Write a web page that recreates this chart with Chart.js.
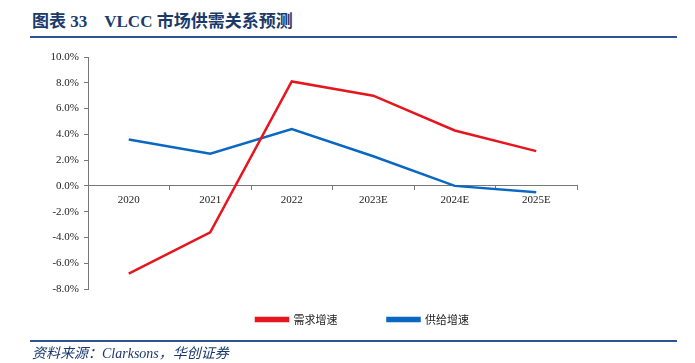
<!DOCTYPE html>
<html>
<head>
<meta charset="utf-8">
<script src="https://cdn.jsdelivr.net/npm/chart.js@4"></script>
<style>
  html, body { margin: 0; padding: 0; background: #fff; }
  #wrap { position: relative; width: 695px; height: 363px; overflow: hidden; }
  #chart { position: absolute; left: 0; top: 0; }
  .title {
    position: absolute; left: 32px; top: 7px;
    font: bold 17px "Liberation Serif", "Noto Sans CJK SC", serif;
    color: #1b3a6b; white-space: pre;
  }
  .rule { position: absolute; left: 30px; width: 647px; height: 2px; background: #2d5592; }
  .source {
    position: absolute; left: 32px; top: 342px;
    font: italic 14px "Liberation Serif", "Noto Sans CJK SC", serif;
    color: #1b3a6b;
  }
</style>
</head>
<body>
<div id="wrap">
  <div class="title">图表 33    VLCC 市场供需关系预测</div>
  <div class="rule" style="top:36px"></div>
  <canvas id="chart" width="695" height="363"></canvas>
  <div class="rule" style="top:340px"></div>
  <div class="source">资料来源：Clarksons，华创证券</div>
</div>
<script>
// 年份
const years = ["2020", "2021", "2022", "2023E", "2024E", "2025E"];
// 需求增速 (%)
const demand = [-6.8, -3.6, 8.1, 7.0, 4.3, 2.7];
// 供给增速 (%)
const supply = [3.6, 2.5, 4.4, 2.3, 0.0, -0.5];

const yMin = -8;
const yMax = 10;
const yStep = 2;

const axisFont = { family: "'Liberation Serif', 'Noto Sans CJK SC', serif", size: 11 };

// move the legend under the plot, like the original
const legendShift = {
  id: "legendShift",
  afterLayout(chart) {
    const lg = chart.legend;
    if (!lg) return;
    lg.left += 74;
    lg.right += 74;
    lg.top -= 25;
    lg.bottom -= 25;
  },
};

new Chart(document.getElementById("chart"), {
  type: "line",
  data: {
    labels: years,
    datasets: [
      {
        label: "需求增速",
        data: demand,
        borderColor: "#e6161e",
        backgroundColor: "#e6161e",
        borderWidth: 2.5,
        pointRadius: 0,
        tension: 0,
      },
      {
        label: "供给增速",
        data: supply,
        borderColor: "#0a67c2",
        backgroundColor: "#0a67c2",
        borderWidth: 2.5,
        pointRadius: 0,
        tension: 0,
      },
    ],
  },
  plugins: [legendShift],
  options: {
    responsive: false,
    animation: false,
    layout: { padding: { top: 57, left: 0, right: 118, bottom: 3 } },
    plugins: {
      tooltip: { enabled: false },
      legend: {
        position: "bottom",
        labels: {
          boxWidth: 32,
          boxHeight: 3,
          padding: 50,
          color: "#222",
          font: { family: "'Noto Sans CJK SC', serif", size: 11 },
        },
      },
    },
    scales: {
      x: {
        position: { y: 0 },
        offset: true,
        grid: {
          offset: true,
          drawOnChartArea: false,
          drawTicks: true,
          tickLength: 4,
          color: "#777",
        },
        border: { display: true, color: "#777", width: 1 },
        ticks: { color: "#222", font: axisFont, padding: 4, maxRotation: 0 },
      },
      y: {
        min: yMin,
        max: yMax,
        grid: {
          drawOnChartArea: false,
          drawTicks: true,
          tickLength: 4,
          color: "#777",
        },
        border: { display: true, color: "#777", width: 1 },
        ticks: {
          stepSize: yStep,
          color: "#222",
          font: axisFont,
          padding: 5,
          callback: (v) => v.toFixed(1) + "%",
        },
        afterFit: (scale) => {
          scale.width = 88;
        },
      },
    },
  },
});
</script>
</body>
</html>
